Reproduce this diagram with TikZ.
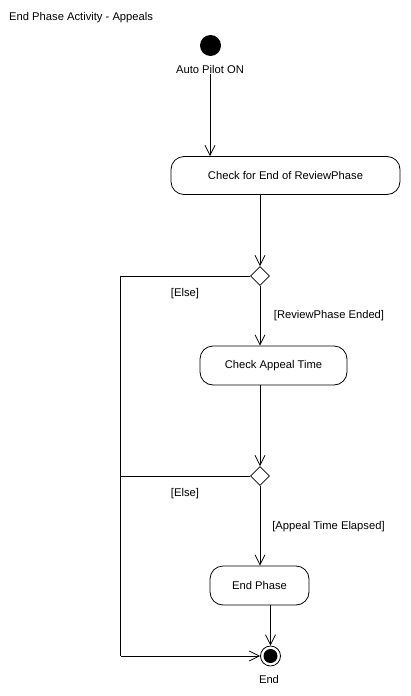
\documentclass[tikz,border=0pt]{standalone}
\usepackage{fontspec}
\setmainfont{Liberation Sans}
\usetikzlibrary{arrows.meta,shapes.geometric}
\begin{document}
\begin{tikzpicture}[x=1pt,y=-1pt,
  every node/.style={font=\fontsize{11.2}{13}\selectfont},
  line/.style={draw=black,line width=0.8pt},
  arr/.style={line,-{Straight Barb[length=10pt,width=10pt,line width=0.8pt]}},
  act/.style={draw=black,line width=0.8pt,rounded corners=13pt,inner sep=0pt},
  dec/.style={draw=black,line width=0.8pt,diamond,aspect=1,minimum width=19pt,minimum height=19pt,inner sep=0pt},
  initst/.style={fill=black,circle,minimum size=21pt,inner sep=0pt},
  finalst/.style={draw=black,line width=0.8pt,circle,minimum size=20pt,inner sep=0pt,
    path picture={\fill[black] (path picture bounding box.center) circle (7pt);}},
  lbl/.style={inner sep=1pt}
]
\useasboundingbox (0,0) rectangle (411,696);
\fill[white] (0,0) rectangle (411,696);

\node[lbl,anchor=west] (title) at (8,18) {End Phase Activity - Appeals};

\node[initst] (start) at (210.5,45.5) {};
\node[lbl] (autolbl) at (210,69) {Auto Pilot ON};

\node[act,minimum width=229pt,minimum height=38pt] (a1) at (285.5,175.5) {Check for End of ReviewPhase};
\node[dec] (d1) at (260,276) {};
\node[act,minimum width=147pt,minimum height=39pt] (a2) at (273.5,365.5) {Check Appeal Time};
\node[dec] (d2) at (260,476) {};
\node[act,minimum width=99pt,minimum height=39pt] (a3) at (259.5,585.5) {End Phase};
\node[finalst] (fin) at (270.5,656) {};
\node[lbl] (finlbl) at (269,679) {End};

\node[lbl] (else1) at (185,294) {[Else]};
\node[lbl] (g1) at (329,316) {[ReviewPhase Ended]};
\node[lbl] (else2) at (185,494) {[Else]};
\node[lbl] (g2) at (328.5,527) {[Appeal Time Elapsed]};

\coordinate (c1) at (120.5,276);
\coordinate (c2) at (120.5,476);
\coordinate (c3) at (120.5,656);

\draw[arr] (autolbl.south) -- (autolbl.south |- a1.north);
\draw[arr] (a1.south -| d1) -- (d1.north);
\draw[arr] (d1.south) -- (d1.south |- a2.north);
\draw[arr] (a2.south -| d1) -- (d2.north);
\draw[arr] (d2.south) -- (d2.south |- a3.north);
\draw[arr] (a3.south -| fin) -- (fin.north);
\draw[line] (d1.west) -- (c1) -- (c3);
\draw[arr] (c3) -- (fin.west);
\draw[line] (d2.west) -- (c2);
\end{tikzpicture}
\end{document}
